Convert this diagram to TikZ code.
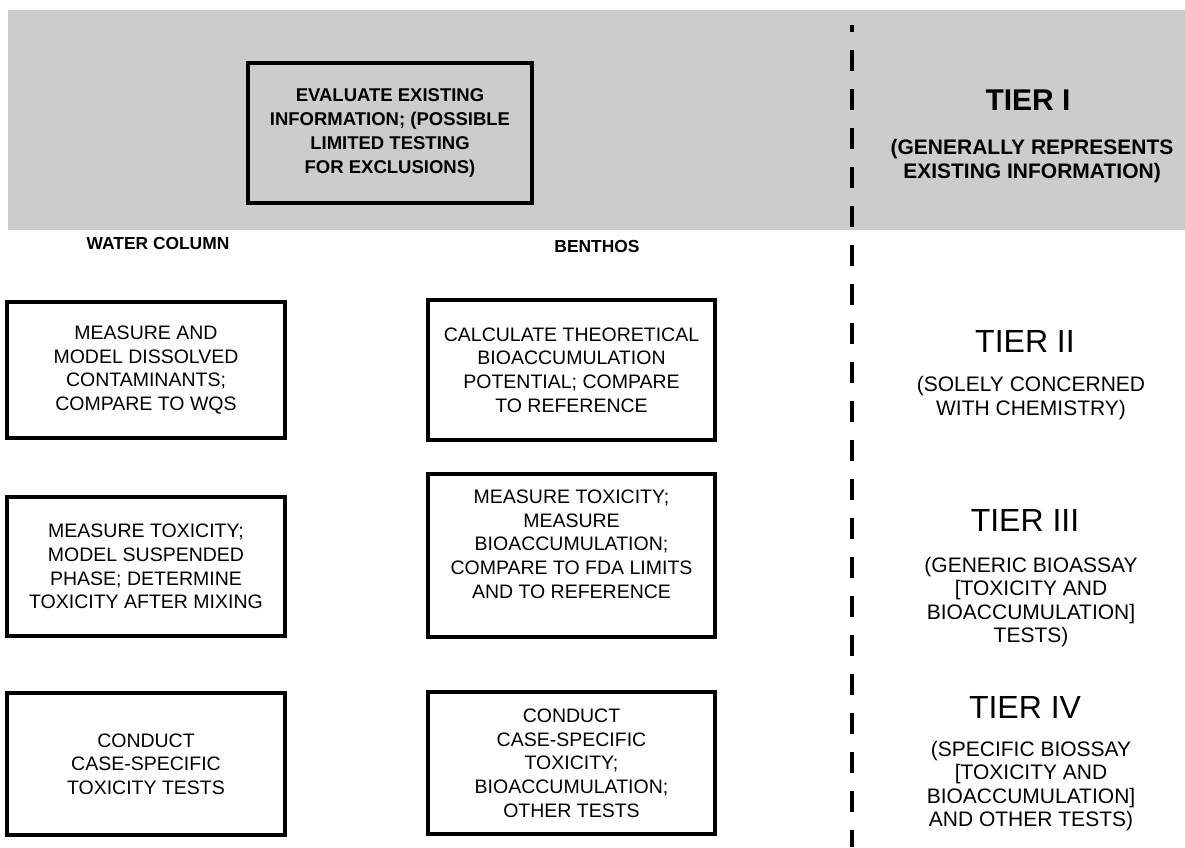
\documentclass[tikz,border=0pt]{standalone}
\usepackage{fontspec}
\setmainfont{Liberation Sans}
\definecolor{band}{gray}{0.8}
\begin{document}
\begin{tikzpicture}[x=1pt,y=-1pt,
  every node/.style={inner sep=0pt, outer sep=0pt},
  boxtext/.style={font=\fontsize{19.5}{23.7}\selectfont, align=center},
  stagebox/.style={boxtext, draw, line width=3.5pt},
  waterbox/.style={stagebox, minimum width=278pt},
  benthbox/.style={stagebox, minimum width=287pt},
  tierhead/.style={font=\fontsize{32}{36}\selectfont},
  tiernote/.style={font=\fontsize{21}{23.5}\selectfont, align=center},
  collabel/.style={font=\bfseries\fontsize{17.4}{22}\selectfont},
  divider/.style={line width=4.5pt, dash pattern=on 21pt off 18pt, dash phase=14pt}]
\useasboundingbox (0,0) rectangle (1185,847);

% shaded Tier I band
\fill[band] (8,10) rectangle (1185,230);

% Tier I: evaluate existing information
\node[stagebox, font=\bfseries\fontsize{18.5}{24}\selectfont, fill=band,
      minimum width=284pt, minimum height=140pt]
  (evaluate) at (390,133)
  {EVALUATE EXISTING\\INFORMATION; (POSSIBLE\\LIMITED TESTING\\FOR EXCLUSIONS)};

% column headings
\node[collabel] (water) at (158,244) {WATER COLUMN};
\node[collabel] (benthos) at (597,247) {BENTHOS};

% water column tests
\node[waterbox, minimum height=136pt] (w2) at (146,370)
  {MEASURE AND\\MODEL DISSOLVED\\CONTAMINANTS;\\COMPARE TO WQS};
\node[waterbox, minimum height=139pt] (w3) at (146,566.5)
  {MEASURE TOXICITY;\\MODEL SUSPENDED\\PHASE; DETERMINE\\TOXICITY AFTER MIXING};
\node[waterbox, minimum height=142pt] (w4) at (146,764)
  {CONDUCT\\CASE-SPECIFIC\\TOXICITY TESTS};

% benthic tests
\node[benthbox, minimum height=140pt] (b2) at (571.5,370)
  {CALCULATE THEORETICAL\\BIOACCUMULATION\\POTENTIAL; COMPARE\\TO REFERENCE};
% the five-line box is taller, with its text set near the top
\node[benthbox, minimum height=163pt] (b3) at (571.5,555.5) {};
\node[boxtext] (b3text) at (571.5,544)
  {MEASURE TOXICITY;\\MEASURE\\BIOACCUMULATION;\\COMPARE TO FDA LIMITS\\AND TO REFERENCE};
\node[benthbox, minimum height=142pt] (b4) at (571.5,763)
  {CONDUCT\\CASE-SPECIFIC\\TOXICITY;\\BIOACCUMULATION;\\OTHER TESTS};

% divider between the tests and the tier descriptions
\coordinate (divtop) at (852,25);
\coordinate (divbot) at (852,847);
\draw[divider] (divtop) -- (divbot);

% tier descriptions
\node[tierhead, font=\bfseries\fontsize{30}{36}\selectfont] (t1) at (1028,100) {TIER I};
\node[tiernote, font=\bfseries\fontsize{21}{23.5}\selectfont] (t1n) at (1032,161)
  {(GENERALLY REPRESENTS\\EXISTING INFORMATION)};

\node[tierhead] (t2) at (1025,341) {TIER II};
\node[tiernote] (t2n) at (1031,398)
  {(SOLELY CONCERNED\\WITH CHEMISTRY)};

\node[tierhead] (t3) at (1025,520) {TIER III};
\node[tiernote] (t3n) at (1031,602)
  {(GENERIC BIOASSAY\\{}[TOXICITY AND\\BIOACCUMULATION]\\TESTS)};

\node[tierhead] (t4) at (1025,707) {TIER IV};
\node[tiernote] (t4n) at (1031,786)
  {(SPECIFIC BIOSSAY\\{}[TOXICITY AND\\BIOACCUMULATION]\\AND OTHER TESTS)};
\end{tikzpicture}
\end{document}
